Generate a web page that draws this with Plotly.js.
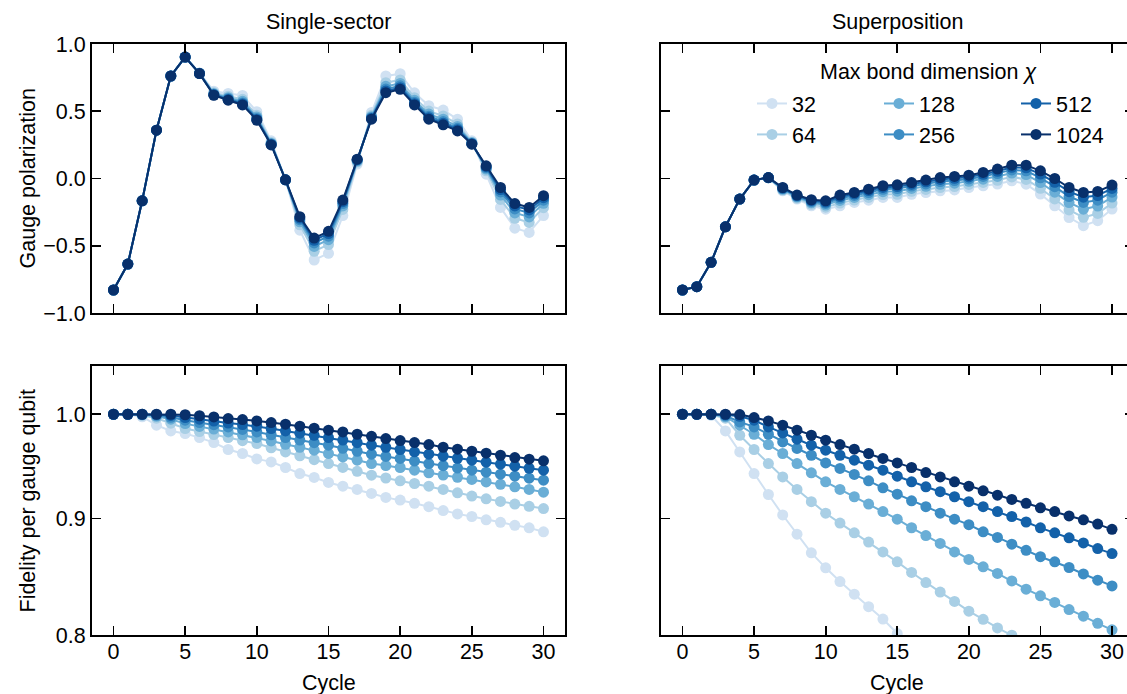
<!DOCTYPE html>
<html><head><meta charset="utf-8">
<script src="https://cdn.plot.ly/plotly-3.0.1.min.js"></script>
<style>html,body{margin:0;padding:0;overflow:hidden;background:#fff}#chart{width:1134px;height:694px}</style>
</head><body><div id="chart"></div>
<script>
// ---------- data ----------
const cycles = [0,1,2,3,4,5,6,7,8,9,10,11,12,13,14,15,16,17,18,19,20,21,22,23,24,25,26,27,28,29,30];
const bondDims = ['32','64','128','256','512','1024'];
const xTicks = [0,5,10,15,20,25,30];
const polTicks = [-1,-0.5,0,0.5,1];
const fidTicks = [0.8,0.9,1.0];
const fidTickText = ['0.8','0.9','1.0'];

// Gauge polarization, single-sector
const polSingle32   = [-0.829,-0.636,-0.166,0.359,0.762,0.903,0.785,0.649,0.632,0.617,0.497,0.280,-0.010,-0.384,-0.606,-0.556,-0.276,0.107,0.491,0.762,0.779,0.637,0.541,0.509,0.441,0.280,0.032,-0.215,-0.369,-0.401,-0.276];
const polSingle64   = [-0.829,-0.636,-0.166,0.359,0.762,0.903,0.783,0.637,0.612,0.589,0.471,0.268,-0.010,-0.344,-0.541,-0.491,-0.230,0.122,0.471,0.712,0.733,0.601,0.501,0.465,0.406,0.270,0.057,-0.156,-0.296,-0.327,-0.217];
const polSingle128  = [-0.829,-0.636,-0.166,0.359,0.762,0.903,0.782,0.630,0.601,0.574,0.457,0.261,-0.010,-0.322,-0.505,-0.455,-0.204,0.130,0.460,0.685,0.707,0.581,0.479,0.441,0.387,0.265,0.070,-0.123,-0.256,-0.286,-0.184];
const polSingle256  = [-0.829,-0.636,-0.166,0.359,0.762,0.903,0.781,0.626,0.593,0.562,0.447,0.257,-0.010,-0.306,-0.479,-0.429,-0.186,0.136,0.452,0.665,0.689,0.567,0.463,0.423,0.373,0.261,0.080,-0.100,-0.226,-0.256,-0.161];
const polSingle512  = [-0.829,-0.636,-0.166,0.359,0.762,0.903,0.780,0.622,0.587,0.554,0.439,0.253,-0.010,-0.294,-0.459,-0.409,-0.172,0.140,0.446,0.650,0.675,0.556,0.451,0.410,0.363,0.258,0.088,-0.082,-0.204,-0.234,-0.143];
const polSingle1024 = [-0.829,-0.636,-0.166,0.359,0.762,0.903,0.780,0.619,0.582,0.547,0.433,0.250,-0.010,-0.284,-0.443,-0.393,-0.160,0.144,0.441,0.638,0.663,0.547,0.441,0.399,0.354,0.255,0.094,-0.067,-0.186,-0.215,-0.128];

// Gauge polarization, superposition
const polSuper32   = [-0.829,-0.804,-0.623,-0.359,-0.153,-0.012,0.004,-0.092,-0.153,-0.203,-0.228,-0.203,-0.178,-0.161,-0.141,-0.141,-0.117,-0.104,-0.092,-0.085,-0.067,-0.054,-0.041,-0.017,-0.042,-0.116,-0.203,-0.290,-0.351,-0.314,-0.227];
const polSuper64   = [-0.829,-0.804,-0.623,-0.359,-0.153,-0.012,0.005,-0.086,-0.146,-0.192,-0.213,-0.183,-0.160,-0.141,-0.119,-0.118,-0.095,-0.081,-0.067,-0.060,-0.044,-0.029,-0.013,0.012,-0.007,-0.073,-0.152,-0.234,-0.289,-0.260,-0.183];
const polSuper128  = [-0.829,-0.804,-0.623,-0.359,-0.153,-0.012,0.006,-0.080,-0.138,-0.181,-0.197,-0.163,-0.141,-0.120,-0.098,-0.094,-0.074,-0.058,-0.043,-0.035,-0.021,-0.005,0.015,0.041,0.029,-0.030,-0.102,-0.179,-0.228,-0.205,-0.138];
const polSuper256  = [-0.829,-0.804,-0.623,-0.359,-0.153,-0.012,0.006,-0.075,-0.132,-0.172,-0.185,-0.147,-0.126,-0.104,-0.080,-0.075,-0.056,-0.040,-0.023,-0.015,-0.003,0.015,0.037,0.064,0.057,0.005,-0.061,-0.134,-0.178,-0.161,-0.102];
const polSuper512  = [-0.829,-0.804,-0.623,-0.359,-0.153,-0.012,0.007,-0.071,-0.127,-0.164,-0.175,-0.134,-0.114,-0.090,-0.066,-0.060,-0.042,-0.025,-0.007,0.001,0.012,0.031,0.054,0.083,0.079,0.033,-0.028,-0.098,-0.139,-0.127,-0.074];
const polSuper1024 = [-0.829,-0.804,-0.623,-0.359,-0.153,-0.012,0.007,-0.067,-0.123,-0.158,-0.166,-0.123,-0.104,-0.079,-0.054,-0.047,-0.030,-0.012,0.007,0.015,0.025,0.045,0.070,0.099,0.099,0.057,0.000,-0.067,-0.104,-0.096,-0.049];

// Fidelity per gauge qubit, single-sector
const fidSingle32   = [1,1,0.9975,0.9890,0.9833,0.9807,0.9767,0.9718,0.9650,0.9611,0.9559,0.9530,0.9476,0.9418,0.9381,0.9334,0.9299,0.9268,0.9231,0.9194,0.9169,0.9139,0.9108,0.9072,0.9042,0.9018,0.8988,0.8965,0.8938,0.8915,0.8880];
const fidSingle64   = [1,1,0.9990,0.9960,0.9910,0.9857,0.9827,0.9797,0.9767,0.9737,0.9708,0.9667,0.9626,0.9589,0.9551,0.9514,0.9477,0.9440,0.9403,0.9376,0.9349,0.9324,0.9299,0.9268,0.9237,0.9206,0.9181,0.9157,0.9132,0.9111,0.9091];
const fidSingle128  = [1,1,0.9995,0.9980,0.9950,0.9906,0.9878,0.9851,0.9823,0.9795,0.9767,0.9734,0.9701,0.9672,0.9643,0.9610,0.9578,0.9546,0.9514,0.9495,0.9476,0.9450,0.9425,0.9404,0.9383,0.9362,0.9339,0.9316,0.9293,0.9268,0.9243];
const fidSingle256  = [1,1,0.9998,0.9990,0.9970,0.9940,0.9917,0.9895,0.9873,0.9848,0.9823,0.9795,0.9767,0.9742,0.9717,0.9692,0.9662,0.9633,0.9604,0.9583,0.9563,0.9538,0.9514,0.9493,0.9471,0.9450,0.9431,0.9412,0.9393,0.9374,0.9355];
const fidSingle512  = [1,1,1,0.9998,0.9988,0.9967,0.9950,0.9931,0.9912,0.9896,0.9880,0.9857,0.9833,0.9811,0.9789,0.9767,0.9742,0.9717,0.9692,0.9671,0.9650,0.9627,0.9604,0.9585,0.9565,0.9546,0.9527,0.9508,0.9489,0.9469,0.9450];
const fidSingle1024 = [1,1,1,1,1,0.9995,0.9985,0.9973,0.9957,0.9946,0.9933,0.9916,0.9900,0.9880,0.9860,0.9840,0.9823,0.9800,0.9780,0.9757,0.9738,0.9718,0.9698,0.9672,0.9653,0.9633,0.9614,0.9594,0.9572,0.9556,0.9540];

// Fidelity per gauge qubit, superposition
const fidSuper32   = [1,1,0.9990,0.9833,0.9626,0.9418,0.9221,0.9032,0.8858,0.8693,0.8562,0.8444,0.8337,0.8232,0.8130,0.8012,0.7900,0.7790,0.7680,0.7570,0.7460,0.7350,0.7240,0.7130,0.7020,0.6910,0.6800,0.6700,0.6600,0.6500,0.6400];
const fidSuper64   = [1,1,0.9995,0.9960,0.9790,0.9650,0.9514,0.9386,0.9268,0.9154,0.9048,0.8958,0.8871,0.8788,0.8701,0.8614,0.8522,0.8435,0.8355,0.8276,0.8195,0.8128,0.8057,0.7998,0.7930,0.7860,0.7790,0.7720,0.7650,0.7580,0.7510];
const fidSuper128  = [1,1,1,0.9975,0.9890,0.9800,0.9698,0.9611,0.9514,0.9425,0.9340,0.9268,0.9200,0.9132,0.9063,0.8994,0.8916,0.8846,0.8776,0.8701,0.8635,0.8571,0.8514,0.8449,0.8379,0.8323,0.8268,0.8208,0.8154,0.8095,0.8042];
const fidSuper256  = [1,1,1,0.9985,0.9923,0.9873,0.9800,0.9724,0.9660,0.9594,0.9520,0.9467,0.9410,0.9349,0.9283,0.9224,0.9162,0.9108,0.9048,0.8994,0.8944,0.8880,0.8829,0.8769,0.8715,0.8659,0.8614,0.8565,0.8509,0.8456,0.8407];
const fidSuper512  = [1,1,1,0.9995,0.9980,0.9940,0.9873,0.9813,0.9751,0.9692,0.9643,0.9594,0.9546,0.9498,0.9450,0.9393,0.9340,0.9293,0.9247,0.9200,0.9154,0.9108,0.9063,0.9018,0.8968,0.8915,0.8871,0.8826,0.8780,0.8730,0.8686];
const fidSuper1024 = [1,1,1,1,0.9997,0.9967,0.9933,0.9890,0.9840,0.9790,0.9741,0.9698,0.9653,0.9611,0.9563,0.9520,0.9476,0.9428,0.9386,0.9340,0.9299,0.9255,0.9215,0.9175,0.9139,0.9098,0.9063,0.9023,0.8988,0.8949,0.8902];

// ---------- styling ----------
const colors = ['#d0e1f2','#a9cfe5','#6aaed6','#3d8dc4','#1361a9','#08306b'];
const W = 1134, H = 694;
const FONT = 'Liberation Sans, Arial, Helvetica, sans-serif';
const FS = 21.5;
const px = v => v / W;
const py = v => 1 - v / H;

const panels = [
  {series:[polSingle32,polSingle64,polSingle128,polSingle256,polSingle512,polSingle1024], xa:'x',  ya:'y',  legend:true},
  {series:[polSuper32,polSuper64,polSuper128,polSuper256,polSuper512,polSuper1024],       xa:'x2', ya:'y2', legend:false},
  {series:[fidSingle32,fidSingle64,fidSingle128,fidSingle256,fidSingle512,fidSingle1024], xa:'x3', ya:'y3', legend:false},
  {series:[fidSuper32,fidSuper64,fidSuper128,fidSuper256,fidSuper512,fidSuper1024],       xa:'x4', ya:'y4', legend:false}
];
const legendIds = ['legend','legend','legend2','legend2','legend3','legend3'];

const traces = [];
panels.forEach(p => {
  p.series.forEach((ys, i) => {
    traces.push({
      type:'scatter', mode:'lines+markers', x:cycles, y:ys,
      xaxis:p.xa, yaxis:p.ya, name:bondDims[i],
      line:{color:colors[i], width:2},
      marker:{color:colors[i], size:11},
      showlegend:p.legend, legend:legendIds[i], legendgroup:'g'+i,
      cliponaxis:true, hoverinfo:'skip'
    });
  });
});

const axBase = {
  showline:true, linecolor:'#000', linewidth:2, mirror:'allticks',
  ticks:'inside', ticklen:9, tickwidth:1.8, tickcolor:'#000',
  showgrid:false, zeroline:false,
  tickfont:{family:FONT, size:FS, color:'#000'}
};
const xL = [px(92), px(565)], xR = [px(661), px(1133.5)];
const yT = [py(313), py(44)], yB = [py(635), py(366)];
const xCommon = Object.assign({}, axBase, {range:[-1.5,31.5], tickmode:'array', tickvals:xTicks, ticklabelstandoff:-4});
const yPol = Object.assign({}, axBase, {range:[-1,1], tickmode:'array', tickvals:polTicks, tickformat:'.1f'});
const yFid = Object.assign({}, axBase, {type:'log', range:[Math.log10(0.8), Math.log10(1.05)], tickmode:'array', tickvals:fidTicks, ticktext:fidTickText});

const legBase = {
  bgcolor:'rgba(0,0,0,0)', borderwidth:0, orientation:'v',
  font:{family:FONT, size:FS, color:'#000'}, xanchor:'left', yanchor:'top',
  tracegroupgap:0, itemclick:false, itemdoubleclick:false
};

const annFont = {family:FONT, size:FS, color:'#000'};
const layout = {
  width:W, height:H, margin:{l:0,r:0,t:0,b:0},
  paper_bgcolor:'#fff', plot_bgcolor:'#fff',
  font:{family:FONT, size:FS, color:'#000'},
  xaxis:  Object.assign({}, xCommon, {domain:xL, anchor:'y',  showticklabels:false}),
  yaxis:  Object.assign({}, yPol,    {domain:yT, anchor:'x'}),
  xaxis2: Object.assign({}, xCommon, {domain:xR, anchor:'y2', showticklabels:false}),
  yaxis2: Object.assign({}, yPol,    {domain:yT, anchor:'x2', showticklabels:false}),
  xaxis3: Object.assign({}, xCommon, {domain:xL, anchor:'y3'}),
  yaxis3: Object.assign({}, yFid,    {domain:yB, anchor:'x3'}),
  xaxis4: Object.assign({}, xCommon, {domain:xR, anchor:'y4'}),
  yaxis4: Object.assign({}, yFid,    {domain:yB, anchor:'x4', showticklabels:false}),
  legend:  Object.assign({}, legBase, {x:px(752), y:py(83)}),
  legend2: Object.assign({}, legBase, {x:px(879), y:py(83)}),
  legend3: Object.assign({}, legBase, {x:px(1016), y:py(83)}),
  showlegend:true,
  annotations:[
    {text:'Single-sector', x:px(328.5), y:py(22), xref:'paper', yref:'paper', showarrow:false, font:annFont, xanchor:'center', yanchor:'middle'},
    {text:'Superposition', x:px(897), y:py(22), xref:'paper', yref:'paper', showarrow:false, font:annFont, xanchor:'center', yanchor:'middle'},
    {text:'Cycle', x:px(328.5), y:py(683), xref:'paper', yref:'paper', showarrow:false, font:annFont, xanchor:'center', yanchor:'middle'},
    {text:'Cycle', x:px(897), y:py(683), xref:'paper', yref:'paper', showarrow:false, font:annFont, xanchor:'center', yanchor:'middle'},
    {text:'Gauge polarization', x:px(27), y:py(178.5), xref:'paper', yref:'paper', showarrow:false, font:annFont, textangle:-90, xanchor:'center', yanchor:'middle'},
    {text:'Fidelity per gauge qubit', x:px(27), y:py(500.5), xref:'paper', yref:'paper', showarrow:false, font:annFont, textangle:-90, xanchor:'center', yanchor:'middle'},
    {text:'Max bond dimension <i>χ</i>', x:px(928), y:py(72), xref:'paper', yref:'paper', showarrow:false, font:annFont, xanchor:'center', yanchor:'middle'}
  ]
};

Plotly.newPlot('chart', traces, layout, {staticPlot:true, displayModeBar:false});
</script>
</body></html>
